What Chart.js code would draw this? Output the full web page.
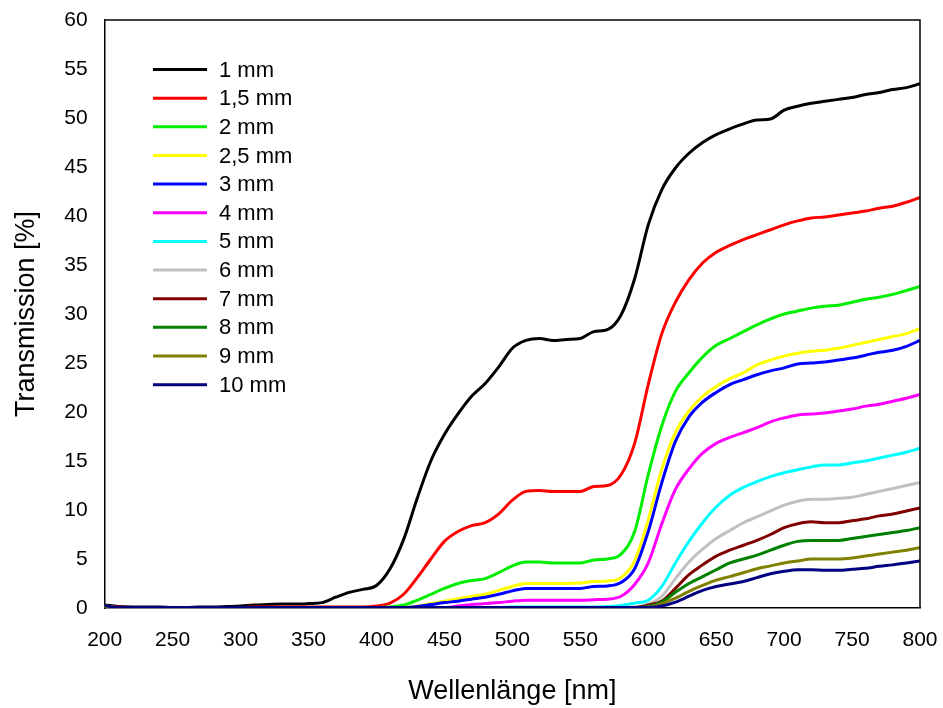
<!DOCTYPE html>
<html>
<head>
<meta charset="utf-8">
<script src="https://cdn.jsdelivr.net/npm/chart.js@4.4.1/dist/chart.umd.min.js"></script>
<style>
  html, body { margin: 0; padding: 0; background: #ffffff; }
  #wrap { width: 943px; height: 708px; }
</style>
</head>
<body>
<div id="wrap"><canvas id="c" width="943" height="708"></canvas></div>
<script>
// ---------- DATA ----------
const wavelengths = [200,210,220,230,240,250,260,270,280,290,300,310,320,330,340,350,360,370,380,390,400,410,420,430,440,450,460,470,480,490,500,510,520,530,540,550,560,570,580,590,600,610,620,630,640,650,660,670,680,690,700,710,720,730,740,750,760,770,780,790,800];

const seriesLabels = ["1 mm","1,5 mm","2 mm","2,5 mm","3 mm","4 mm","5 mm","6 mm","7 mm","8 mm","9 mm","10 mm"];
const seriesColors = ["#000000","#ff0000","#00ee00","#ffff00","#0000ff","#ff00ff","#00ffff","#c0c0c0","#800000","#008000","#808000","#000080"];

const t1mm   = [0.3,0.15,0.1,0.1,0.1,0.05,0.05,0.1,0.1,0.15,0.2,0.3,0.35,0.4,0.4,0.45,0.55,1.1,1.6,1.9,2.3,4.0,7.0,11.2,15.0,17.7,19.8,21.6,22.9,24.6,26.5,27.3,27.5,27.3,27.4,27.5,28.2,28.4,29.9,33.6,39.1,42.7,44.9,46.4,47.5,48.3,48.9,49.4,49.8,49.9,50.8,51.2,51.5,51.7,51.9,52.1,52.4,52.6,52.9,53.1,53.5];
const t1_5mm = [0.2,0.1,0.05,0.05,0.05,0.05,0.05,0.05,0.05,0.05,0.05,0.1,0.1,0.1,0.1,0.1,0.1,0.1,0.1,0.1,0.2,0.5,1.4,3.1,5.0,6.8,7.8,8.4,8.7,9.6,11.0,11.9,12.0,11.9,11.9,11.9,12.4,12.5,13.6,16.8,22.8,28.0,31.2,33.5,35.2,36.3,37.0,37.6,38.1,38.6,39.1,39.5,39.8,39.9,40.1,40.3,40.5,40.8,41.0,41.4,41.9];
const t2mm   = [0.2,0.05,0.05,0.05,0.05,0.05,0.05,0.05,0.05,0.05,0.05,0.05,0.05,0.05,0.05,0.05,0.05,0.05,0.05,0.05,0.05,0.1,0.3,0.8,1.4,2.0,2.5,2.8,3.0,3.6,4.3,4.7,4.7,4.6,4.6,4.6,4.9,5.0,5.5,7.8,13.6,18.6,22.1,24.0,25.6,26.8,27.5,28.2,28.9,29.5,30.0,30.3,30.6,30.8,30.9,31.2,31.5,31.7,32.0,32.4,32.8];
const t2_5mm = [0.2,0.05,0.05,0.05,0.05,0.05,0.05,0.05,0.05,0.05,0.05,0.05,0.05,0.05,0.05,0.05,0.05,0.05,0.05,0.05,0.05,0.05,0.05,0.2,0.45,0.7,0.95,1.2,1.4,1.8,2.2,2.5,2.5,2.5,2.5,2.55,2.7,2.75,3.1,4.8,9.0,14.2,17.9,20.1,21.6,22.6,23.4,24.0,24.8,25.3,25.7,26.0,26.2,26.3,26.5,26.8,27.1,27.4,27.7,28.0,28.5];
const t3mm   = [0.2,0.05,0.05,0.05,0.05,0.05,0.05,0.05,0.05,0.05,0.05,0.05,0.05,0.05,0.05,0.05,0.05,0.05,0.05,0.05,0.05,0.05,0.05,0.15,0.35,0.55,0.7,0.9,1.1,1.4,1.75,2.0,2.0,2.0,2.0,2.0,2.2,2.25,2.6,4.0,7.8,12.8,17.0,19.5,21.0,22.0,22.8,23.3,23.8,24.2,24.5,24.9,25.0,25.1,25.3,25.5,25.8,26.1,26.3,26.7,27.3];
const t4mm   = [0.2,0.05,0.05,0.05,0.05,0.05,0.05,0.05,0.05,0.05,0.05,0.05,0.05,0.05,0.05,0.05,0.05,0.05,0.05,0.05,0.05,0.05,0.05,0.05,0.05,0.05,0.2,0.35,0.45,0.55,0.7,0.8,0.8,0.8,0.8,0.8,0.85,0.9,1.2,2.4,4.6,8.6,12.1,14.2,15.8,16.8,17.4,17.9,18.4,19.0,19.4,19.7,19.8,19.9,20.1,20.3,20.6,20.8,21.1,21.4,21.8];
const t5mm   = [0.2,0.05,0.05,0.05,0.05,0.05,0.05,0.05,0.05,0.05,0.05,0.05,0.05,0.05,0.05,0.05,0.05,0.05,0.05,0.05,0.05,0.05,0.05,0.05,0.05,0.05,0.05,0.05,0.05,0.05,0.1,0.1,0.1,0.1,0.1,0.1,0.1,0.15,0.25,0.5,0.8,2.2,4.6,6.8,8.7,10.3,11.5,12.3,12.9,13.4,13.8,14.1,14.4,14.6,14.6,14.8,15.0,15.3,15.6,15.9,16.3];
const t6mm   = [0.2,0.05,0.05,0.05,0.05,0.05,0.05,0.05,0.05,0.05,0.05,0.05,0.05,0.05,0.05,0.05,0.05,0.05,0.05,0.05,0.05,0.05,0.05,0.05,0.05,0.05,0.05,0.05,0.05,0.05,0.05,0.05,0.05,0.05,0.05,0.05,0.05,0.05,0.05,0.1,0.4,1.2,3.0,4.7,6.0,7.1,7.9,8.7,9.3,9.9,10.5,10.9,11.1,11.1,11.2,11.3,11.6,11.9,12.2,12.5,12.8];
const t7mm   = [0.2,0.05,0.05,0.05,0.05,0.05,0.05,0.05,0.05,0.05,0.05,0.05,0.05,0.05,0.05,0.05,0.05,0.05,0.05,0.05,0.05,0.05,0.05,0.05,0.05,0.05,0.05,0.05,0.05,0.05,0.05,0.05,0.05,0.05,0.05,0.05,0.05,0.05,0.05,0.05,0.3,0.7,2.0,3.4,4.4,5.3,5.9,6.4,6.9,7.5,8.2,8.6,8.8,8.7,8.7,8.9,9.1,9.4,9.6,9.9,10.2];
const t8mm   = [0.2,0.05,0.05,0.05,0.05,0.05,0.05,0.05,0.05,0.05,0.05,0.05,0.05,0.05,0.05,0.05,0.05,0.05,0.05,0.05,0.05,0.05,0.05,0.05,0.05,0.05,0.05,0.05,0.05,0.05,0.05,0.05,0.05,0.05,0.05,0.05,0.05,0.05,0.05,0.05,0.15,0.6,1.6,2.5,3.2,3.9,4.6,5.0,5.4,5.9,6.4,6.8,6.9,6.9,6.9,7.1,7.3,7.5,7.7,7.9,8.2];
const t9mm   = [0.2,0.05,0.05,0.05,0.05,0.05,0.05,0.05,0.05,0.05,0.05,0.05,0.05,0.05,0.05,0.05,0.05,0.05,0.05,0.05,0.05,0.05,0.05,0.05,0.05,0.05,0.05,0.05,0.05,0.05,0.05,0.05,0.05,0.05,0.05,0.05,0.05,0.05,0.05,0.05,0.1,0.45,1.0,1.7,2.3,2.85,3.2,3.6,4.0,4.3,4.6,4.8,5.0,5.0,5.0,5.1,5.3,5.5,5.7,5.9,6.15];
const t10mm  = [0.25,0.05,0.05,0.05,0.05,0.05,0.05,0.05,0.05,0.05,0.05,0.05,0.05,0.05,0.05,0.05,0.05,0.05,0.05,0.05,0.05,0.05,0.05,0.05,0.05,0.05,0.05,0.05,0.05,0.05,0.05,0.05,0.05,0.05,0.05,0.05,0.05,0.05,0.05,0.05,0.05,0.2,0.6,1.2,1.8,2.2,2.45,2.7,3.1,3.5,3.75,3.9,3.9,3.85,3.85,3.95,4.05,4.25,4.4,4.6,4.8];

const seriesValues = [t1mm,t1_5mm,t2mm,t2_5mm,t3mm,t4mm,t5mm,t6mm,t7mm,t8mm,t9mm,t10mm];

const xTickMin = 200, xTickMax = 800, xTickStep = 50;
const yTickMin = 0, yTickMax = 60, yTickStep = 5;
const xTitle = "Wellenlänge [nm]";
const yTitle = "Transmission [%]";

// ---------- CHART ----------
const FONT = "'Liberation Sans', Arial, sans-serif";

const datasets = seriesLabels.map((lab, i) => ({
  label: lab,
  data: wavelengths.map((w, k) => ({ x: w, y: seriesValues[i][k] })),
  borderColor: seriesColors[i],
  backgroundColor: seriesColors[i],
  borderWidth: 3,
  pointRadius: 0,
  cubicInterpolationMode: 'monotone',
  fill: false,
  order: seriesLabels.length - i
}));

const framePlugin = {
  id: 'frame',
  afterDatasetsDraw(chart) {
    const { ctx, chartArea: a } = chart;
    ctx.save();
    ctx.strokeStyle = '#000000';
    ctx.lineWidth = 1.5;
    ctx.beginPath();
    ctx.moveTo(a.left, a.top);
    ctx.lineTo(a.right, a.top);
    ctx.lineTo(a.right, a.bottom);
    ctx.stroke();
    ctx.restore();
  }
};

const legendPlugin = {
  id: 'inlineLegend',
  afterDraw(chart) {
    const ctx = chart.ctx;
    ctx.save();
    ctx.font = "22px " + FONT;
    ctx.textBaseline = 'middle';
    ctx.textAlign = 'left';
    chart.data.datasets.forEach((ds, i) => {
      const y = 69.5 + i * 28.65;
      ctx.strokeStyle = ds.borderColor;
      ctx.lineWidth = 3;
      ctx.beginPath();
      ctx.moveTo(153, y);
      ctx.lineTo(207, y);
      ctx.stroke();
      ctx.fillStyle = '#000000';
      ctx.fillText(ds.label, 219, y + 1);
    });
    ctx.restore();
  }
};

new Chart(document.getElementById('c'), {
  type: 'line',
  data: { datasets },
  plugins: [framePlugin, legendPlugin],
  options: {
    responsive: false,
    animation: false,
    devicePixelRatio: 1,
    layout: { padding: { top: 20, right: 23, left: 0, bottom: 0 } },
    plugins: { legend: { display: false }, tooltip: { enabled: false } },
    scales: {
      x: {
        type: 'linear',
        min: xTickMin, max: xTickMax,
        afterFit(scale) { scale.height = 100; scale.paddingLeft = 0; scale.paddingRight = 0; },
        ticks: { stepSize: xTickStep, color: '#000', font: { family: FONT, size: 21 }, padding: 11, maxRotation: 0 },
        grid: { display: false, drawTicks: true, tickLength: 9, tickColor: '#000', tickWidth: 1.5 },
        border: { display: true, color: '#000', width: 1.5 },
        title: { display: true, text: xTitle, color: '#000', font: { family: FONT, size: 27 }, padding: { top: 0, bottom: 0 } }
      },
      y: {
        min: yTickMin, max: yTickMax,
        afterFit(scale) { scale.width = 104.7; scale.paddingTop = 0; scale.paddingBottom = 0; },
        ticks: { stepSize: yTickStep, color: '#000', font: { family: FONT, size: 21 }, padding: 8 },
        grid: { display: false, drawTicks: true, tickLength: 9, tickColor: '#000', tickWidth: 1.5 },
        border: { display: true, color: '#000', width: 1.5 },
        title: { display: true, text: yTitle, color: '#000', font: { family: FONT, size: 27 }, padding: { top: 10, bottom: 0 } }
      }
    }
  }
});
</script>
</body>
</html>
